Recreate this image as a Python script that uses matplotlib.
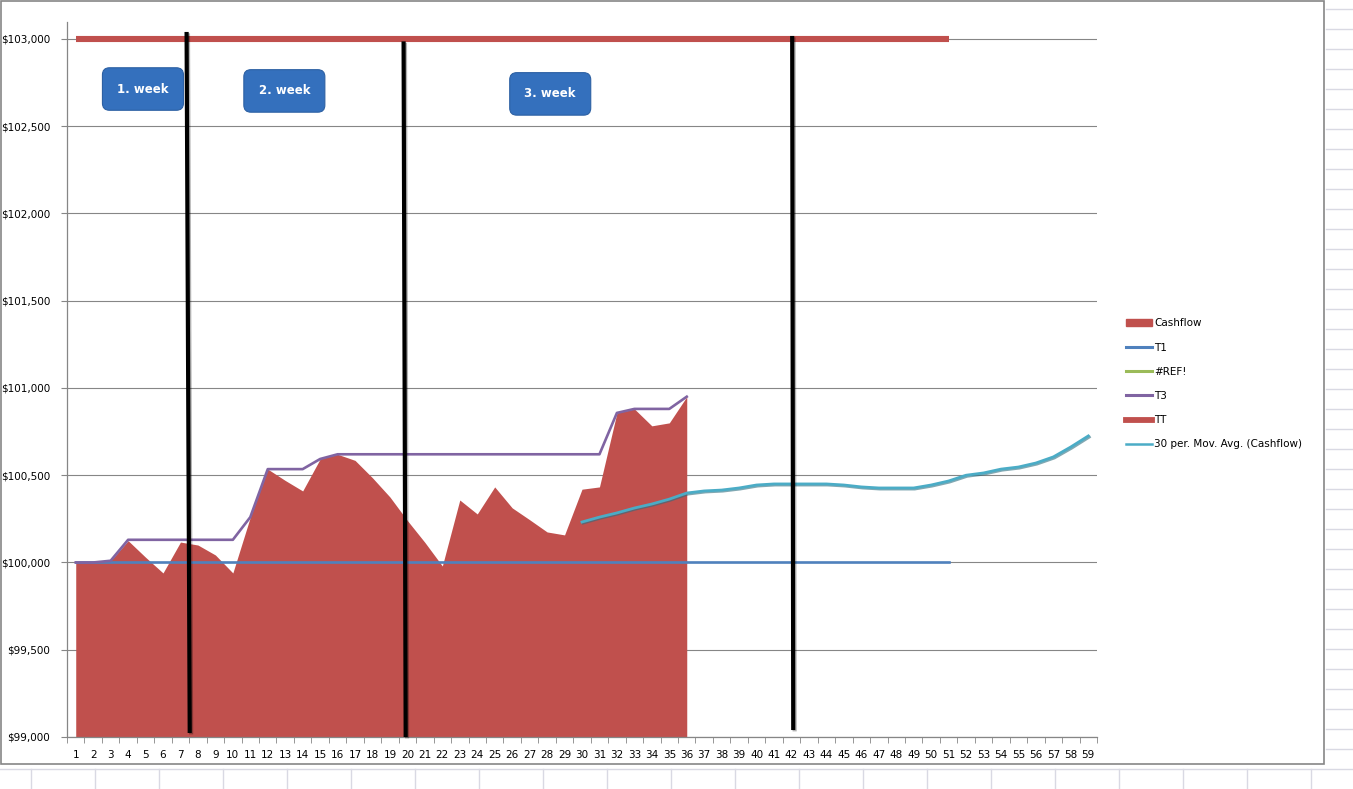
import matplotlib
matplotlib.use("Agg")
import matplotlib.pyplot as plt
import matplotlib.patheffects as pe
from matplotlib.lines import Line2D
from matplotlib.patches import Patch, Rectangle
from matplotlib.ticker import FuncFormatter, FixedLocator

# ---- data ----
days = list(range(1, 60))
cashflow = [100000, 100000, 100010, 100125, 100030, 99940, 100117, 100100, 100043, 99940,
            100260, 100535, 100470, 100410, 100593, 100620, 100585, 100485, 100375, 100240,
            100115, 99980, 100358, 100278, 100433, 100313, 100245, 100175, 100158, 100420,
            100433, 100857, 100880, 100783, 100800, 100950]
t3 = [100000, 100000, 100010, 100130, 100130, 100130, 100130, 100130, 100130, 100130,
      100260, 100535, 100535, 100535, 100593, 100620, 100620, 100620, 100620, 100620,
      100620, 100620, 100620, 100620, 100620, 100620, 100620, 100620, 100620, 100620,
      100620, 100857, 100880, 100880, 100880, 100950]
t1_value = 100000
tt_value = 103000
t_last_day = 51
mov_avg_start = 30
mov_avg = [100232, 100260, 100284, 100312, 100335, 100363, 100398, 100410, 100415, 100427,
           100444, 100450, 100450, 100450, 100450, 100444, 100433, 100427, 100427, 100427,
           100444, 100467, 100500, 100513, 100535, 100547, 100570, 100605, 100662, 100725]
# hand-drawn week dividers: (x top, y top, x bottom, y bottom)
dividers = [(7.35, 103040, 7.53, 99023),
            (19.78, 102986, 19.90, 99000),
            (42.04, 103017, 42.10, 99040)]
week_labels = ["1. week", "2. week", "3. week"]
week_pos = [(4.85, 102713), (12.95, 102702), (28.18, 102685)]

RED = "#C0504D"
BLUE = "#4F81BD"
GREEN = "#9BBB59"
PURPLE = "#8064A2"
CYAN = "#4BACC6"
GRID = "#868686"

fig = plt.figure(figsize=(13.53, 7.89), dpi=100)
ax = fig.add_axes([67/1353, 1-737/789, (1097-67)/1353, (737-22)/789])

x_cf = days[:len(cashflow)]
ax.fill_between(x_cf, 99000, cashflow, color=RED, lw=0, zorder=2)
ax.plot(days[:t_last_day], [t1_value]*t_last_day, color=BLUE, lw=1.9, zorder=3)
ax.plot(x_cf, t3, color=PURPLE, lw=1.9, zorder=4)
ax.plot(days[:t_last_day], [tt_value]*t_last_day, color=RED, lw=4.4, zorder=3,
        solid_capstyle="butt")
ax.plot(days[mov_avg_start-1:mov_avg_start-1+len(mov_avg)], mov_avg, color=CYAN, lw=2.0, zorder=4,
        path_effects=[pe.SimpleLineShadow(offset=(0.8, -0.8), shadow_color="#2d6e80", alpha=0.6),
                      pe.Normal()])

for xt, yt, xb, yb in dividers:
    ax.plot([xt, xb], [yt, yb], color="black", lw=3.0, zorder=6, clip_on=False,
            solid_capstyle="butt",
            path_effects=[pe.SimpleLineShadow(offset=(1, -1), alpha=0.3), pe.Normal()])

for lab, (wx, wy) in zip(week_labels, week_pos):
    ax.text(wx, wy, lab, ha="center", va="center", color="white", fontsize=8.5,
            fontweight="bold", zorder=7,
            bbox=dict(boxstyle="round,pad=1.25,rounding_size=0.6", fc="#3470bd",
                      ec="#2c60a3", lw=0.8))

ax.set_xlim(0.5, 59.5)
ax.set_ylim(99000, 103097)
ax.set_yticks([99000, 99500, 100000, 100500, 101000, 101500, 102000, 102500, 103000])
ax.yaxis.set_major_formatter(FuncFormatter(lambda v, p: "${:,.0f}".format(v)))
ax.grid(axis="y", color=GRID, lw=0.8, zorder=1)
ax.set_axisbelow(True)

ax.set_xticks(days)
ax.set_xticklabels([str(d) for d in days])
ax.xaxis.set_minor_locator(FixedLocator([d + 0.5 for d in range(0, 60)]))
ax.tick_params(axis="x", which="major", length=0, pad=9, labelsize=7.5, labelcolor="black")
ax.tick_params(axis="x", which="minor", length=4, color=GRID, direction="out")
ax.tick_params(axis="y", length=4, color=GRID, pad=8, labelsize=7.5)

for s in ["top", "right"]:
    ax.spines[s].set_visible(False)
for s in ["left", "bottom"]:
    ax.spines[s].set_color(GRID)
    ax.spines[s].set_linewidth(0.9)

handles = [Patch(color=RED),
           Line2D([], [], color=BLUE, lw=2.2),
           Line2D([], [], color=GREEN, lw=2.2),
           Line2D([], [], color=PURPLE, lw=2.2),
           Line2D([], [], color=RED, lw=4.2),
           Line2D([], [], color=CYAN, lw=1.8)]
labels = ["Cashflow", "T1", "#REF!", "T3", "TT", "30 per. Mov. Avg. (Cashflow)"]
fig.legend(handles, labels, loc="upper left", bbox_to_anchor=(1117/1353, 1-309/789),
           frameon=False, fontsize=7.5, handlelength=2.5, handleheight=0.6,
           handletextpad=0.2, labelspacing=1.36)

# chart frame and the spreadsheet grid around it
fig.add_artist(Rectangle((0.5/1353, 1-764/789), 1323/1353, 763.5/789, transform=fig.transFigure,
                         fill=False, ec=GRID, lw=1.2))
sheet = "#d9d9e3"
for k in range(40):
    yy = 9.3 + 20*k
    if yy > 764:
        break
    fig.add_artist(Line2D([1326/1353, 1], [1-yy/789]*2, transform=fig.transFigure, color=sheet, lw=1))
fig.add_artist(Line2D([0, 1], [1-769/789]*2, transform=fig.transFigure, color=sheet, lw=1))
for k in range(22):
    xx = 31 + 64*k
    fig.add_artist(Line2D([xx/1353]*2, [0, 1-769/789], transform=fig.transFigure, color=sheet, lw=1))

fig.savefig("out.png", dpi=100)
